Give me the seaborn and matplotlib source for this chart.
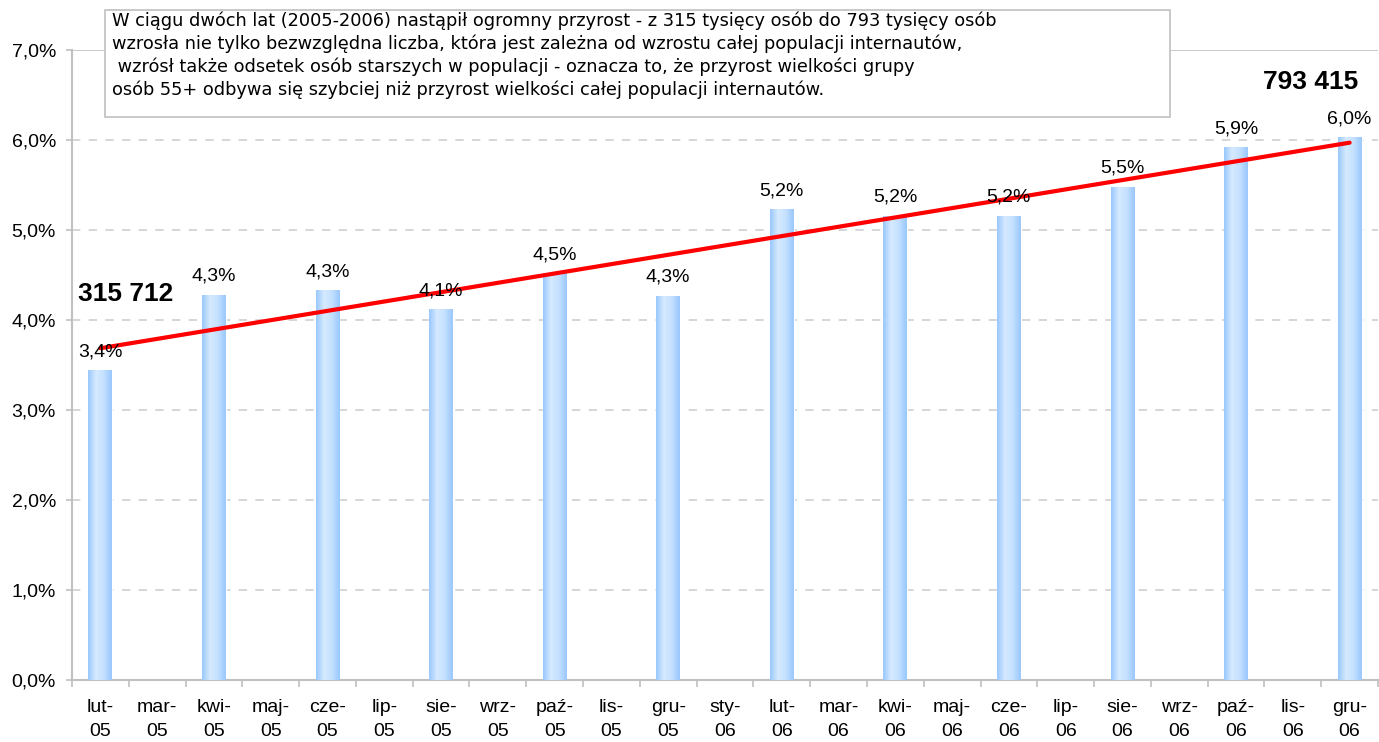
import numpy as np
import pandas as pd
import seaborn as sns
import matplotlib.pyplot as plt
from matplotlib.colors import LinearSegmentedColormap
from matplotlib.patches import Rectangle
from matplotlib.ticker import FuncFormatter, FixedLocator

# all months on the axis
months = ['lut-\n05', 'mar-\n05', 'kwi-\n05', 'maj-\n05', 'cze-\n05', 'lip-\n05',
          'sie-\n05', 'wrz-\n05', 'paź-\n05', 'lis-\n05', 'gru-\n05', 'sty-\n06',
          'lut-\n06', 'mar-\n06', 'kwi-\n06', 'maj-\n06', 'cze-\n06', 'lip-\n06',
          'sie-\n06', 'wrz-\n06', 'paź-\n06', 'lis-\n06', 'gru-\n06']
# months with a measurement (every second one)
bar_months = months[::2]
share_55 = [3.44, 4.28, 4.33, 4.12, 4.52, 4.27, 5.23, 5.16, 5.16, 5.48, 5.92, 6.03]

start_count = '315 712'
end_count = '793 415'
note = ('W ciągu dwóch lat (2005-2006) nastąpił ogromny przyrost - z 315 tysięcy osób do 793 tysięcy osób\n'
        'wzrosła nie tylko bezwzględna liczba, która jest zależna od wzrostu całej populacji internautów,\n'
        ' wzrósł także odsetek osób starszych w populacji - oznacza to, że przyrost wielkości grupy\n'
        'osób 55+ odbywa się szybciej niż przyrost wielkości całej populacji internautów.')

df = pd.DataFrame({'miesiac': bar_months, 'udzial': share_55})

sns.set_style('white')
plt.rcParams['font.family'] = ['Liberation Sans', 'DejaVu Sans']
plt.rcParams['text.color'] = 'black'
plt.rcParams['xtick.color'] = 'black'
plt.rcParams['ytick.color'] = 'black'

fig = plt.figure(figsize=(13.79, 7.42), dpi=100)
ax = fig.add_axes([72 / 1379, 1 - 680 / 742, 1 - 73 / 1379, 630 / 742])

sns.barplot(data=df, x='miesiac', y='udzial', order=months, width=0.42,
            color='#a8d0ff', saturation=1, ax=ax, zorder=2)

# horizontal gradient on each bar
grad = LinearSegmentedColormap.from_list('bar', ['#99c8fc', '#d6eaff', '#c4e0ff', '#99c8fc'])
g = np.linspace(0, 1, 64).reshape(1, -1)
for p in ax.patches:
    if p.get_height() > 0:
        x0, w, h = p.get_x(), p.get_width(), p.get_height()
        im = ax.imshow(g, cmap=grad, extent=(x0, x0 + w, 0, h), aspect='auto',
                       zorder=3, origin='lower')
        im.set_clip_path(p)

# trend line
pos = [months.index(m) for m in bar_months]
sns.regplot(x=pos, y=share_55, scatter=False, ci=None, truncate=True, ax=ax,
            line_kws={'color': 'red', 'lw': 3, 'zorder': 5})

ax.set_xlim(-0.5, len(months) - 0.5)
ax.set_ylim(0, 7)

# value labels
for x, v in zip(pos, share_55):
    ax.annotate(f'{v:.1f}%'.replace('.', ','), (x, v), xytext=(0, 10),
                textcoords='offset points', ha='center', va='baseline',
                fontsize=14, zorder=6)

ax.text(0.45, 4.29, start_count, ha='center', va='center', fontsize=19, fontweight='bold')
ax.text(21.32, 6.64, end_count, ha='center', va='center', fontsize=19, fontweight='bold')

# grid and axes
for yv in range(1, 7):
    ax.axhline(yv, color='#d0d0d0', lw=1.2, ls=(0, (5, 5)), zorder=1)
ax.axhline(7, color='#c0c0c0', lw=1.2, zorder=1)

ax.set_xticks(range(len(months)))
ax.set_xticklabels(months, fontsize=14, linespacing=1.5)
ax.xaxis.set_minor_locator(FixedLocator(np.arange(-0.5, len(months), 1)))
ax.tick_params(axis='x', which='major', length=0, pad=14)
ax.tick_params(axis='x', which='minor', length=5, color='#c0c0c0', width=1.2, direction='out', bottom=True)
ax.set_yticks(range(8))
ax.yaxis.set_major_formatter(FuncFormatter(lambda v, _: f'{v:.1f}%'.replace('.', ',')))
ax.tick_params(axis='y', length=4.5, color='#c0c0c0', width=1.2, direction='out', left=True,
               labelsize=14, pad=7)
ax.set_xlabel('')
ax.set_ylabel('')
for s in ['top', 'right']:
    ax.spines[s].set_visible(False)
for s in ['left', 'bottom']:
    ax.spines[s].set_color('#c0c0c0')
    ax.spines[s].set_linewidth(1.5)

# comment box
box = Rectangle((105 / 1379, 1 - 117 / 742), 1065 / 1379, 107 / 742, transform=fig.transFigure,
                facecolor='white', edgecolor='#c0c0c0', lw=1.2, zorder=10)
fig.patches.append(box)
fig.text(112 / 1379, 1 - 12 / 742, note, ha='left', va='top', fontsize=12.8,
         family=['DejaVu Sans'], linespacing=1.3, zorder=11)

fig.savefig('out.png', dpi=100)
